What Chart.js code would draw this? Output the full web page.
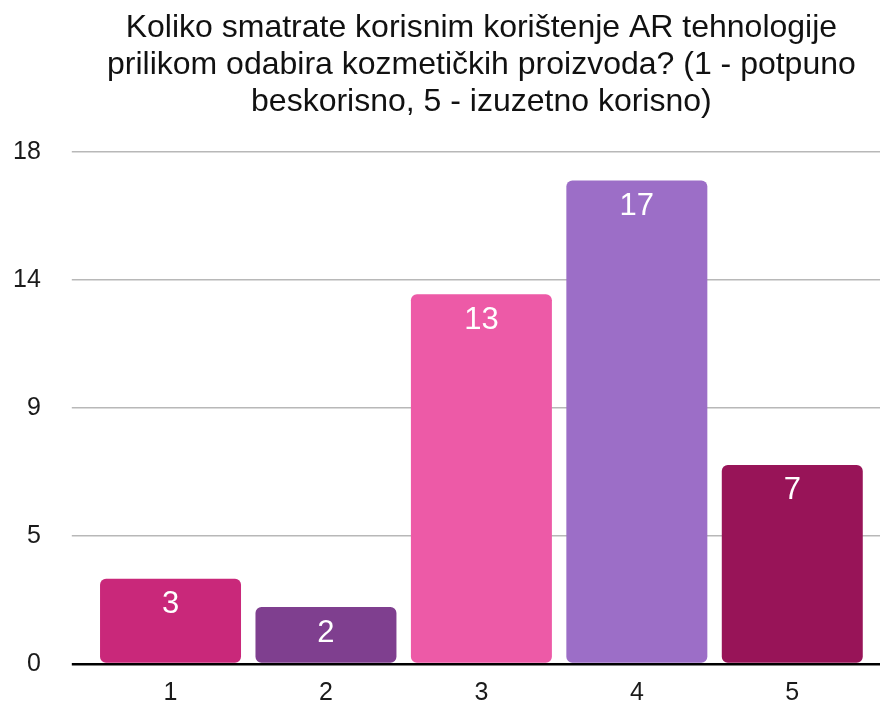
<!DOCTYPE html>
<html>
<head>
<meta charset="utf-8">
<script src="https://cdn.jsdelivr.net/npm/chart.js@4/dist/chart.umd.min.js"></script>
<style>
  html, body { margin: 0; padding: 0; background: #fff; }
  #wrap { width: 880px; height: 702px; position: relative; }
</style>
</head>
<body>
<div id="wrap"><canvas id="chart"></canvas></div>
<script>
const titleLines = [
  "Koliko smatrate korisnim korištenje AR tehnologije",
  "prilikom odabira kozmetičkih proizvoda? (1 - potpuno",
  "beskorisno, 5 - izuzetno korisno)"
];
const categories = ["1", "2", "3", "4", "5"];
const answerCounts = [3, 2, 13, 17, 7];
const barColors = ["#c9287a", "#7f3f8f", "#ed5aa7", "#9c6ec7", "#981458"];
const yMax = 18;
const yStep = 4.5;
const yTickLabels = ["0", "5", "9", "14", "18"];

const FONT = "'Liberation Sans', Arial, Helvetica, sans-serif";

// white value labels inside top of each bar
const barValueLabels = {
  id: "barValueLabels",
  afterDatasetsDraw(chart) {
    const ctx = chart.ctx;
    const meta = chart.getDatasetMeta(0);
    ctx.save();
    ctx.fillStyle = "#ffffff";
    ctx.font = "31px " + FONT;
    ctx.textAlign = "center";
    ctx.textBaseline = "middle";
    meta.data.forEach((bar, i) => {
      ctx.fillText(String(answerCounts[i]), bar.x, bar.y + 26);
    });
    ctx.restore();
  }
};

const gridColor = c => (c.tick && c.tick.value === 0 ? "#000000" : "#b8b8b8");
const gridWidth = c => (c.tick && c.tick.value === 0 ? 2.5 : 1.5);

new Chart(document.getElementById("chart").getContext("2d"), {
  type: "bar",
  data: {
    labels: categories,
    datasets: [{
      data: answerCounts,
      backgroundColor: barColors,
      borderRadius: 6,
      borderSkipped: false,
      barPercentage: 0.907,
      categoryPercentage: 1.0
    }]
  },
  options: {
    responsive: true,
    maintainAspectRatio: false,
    animation: false,
    layout: { padding: { left: -18, right: 0, top: 0, bottom: -20 } },
    plugins: {
      legend: { display: false },
      tooltip: { enabled: false },
      title: {
        display: true,
        fullSize: false,
        text: titleLines,
        color: "#111111",
        font: { family: FONT, size: 32, weight: "normal", lineHeight: 37 / 32 },
        padding: { top: 10, bottom: 31 }
      }
    },
    scales: {
      x: {
        grid: { display: false, drawTicks: false },
        border: { display: false },
        ticks: {
          color: "#1a1a1a",
          padding: 17,
          font: { family: FONT, size: 25, lineHeight: 0.96 }
        }
      },
      y: {
        min: 0,
        max: yMax,
        border: { display: false },
        grid: {
          color: gridColor,
          lineWidth: gridWidth,
          drawTicks: true,
          tickLength: 21
        },
        ticks: {
          stepSize: yStep,
          color: "#1a1a1a",
          padding: 31,
          font: { family: FONT, size: 25 },
          callback: (value, index) => yTickLabels[index]
        },
        // label padding should not push the plot area up or down
        afterFit: scale => {
          scale.paddingTop = 0;
          scale.paddingBottom = 0;
        }
      },
      yRight: {
        position: "right",
        min: 0,
        max: yMax,
        border: { display: false },
        grid: {
          color: gridColor,
          lineWidth: gridWidth,
          drawOnChartArea: false,
          drawTicks: true,
          tickLength: 10
        },
        ticks: { stepSize: yStep, display: false }
      }
    }
  },
  plugins: [barValueLabels]
});
</script>
</body>
</html>
